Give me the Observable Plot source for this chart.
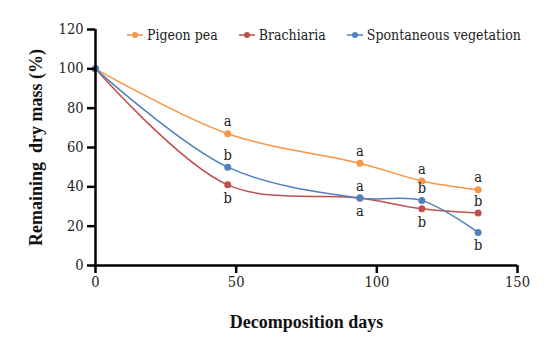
<!DOCTYPE html>
<html>
<head>
<meta charset="utf-8">
<script src="https://cdn.jsdelivr.net/npm/d3@7"></script>
<script src="https://cdn.jsdelivr.net/npm/@observablehq/plot@0.6"></script>
<style>
  html, body { margin: 0; padding: 0; background: #fff; }
  #wrap { position: relative; width: 558px; height: 343px; font-family: 'DejaVu Serif Condensed', 'DejaVu Serif', serif; }
  #legend { position: absolute; left: 127px; top: 27px; display: flex; font-size: 14px; color: #222; white-space: nowrap; }
  .item { display: flex; align-items: center; margin-right: 21px; }
  .item svg { margin-right: 4px; }
</style>
</head>
<body>
<div id="wrap"><div id="legend"></div></div>
<script>
const days = [0, 47, 94, 116, 136];
const series = ["Pigeon pea", "Brachiaria", "Spontaneous vegetation"];
const colors = ["#F79646", "#C0504D", "#4F81BD"];
const pigeonPea = [100, 67, 52, 43, 38.5];
const brachiaria = [100, 41, 34.3, 28.8, 26.7];
const spontaneous = [100, 50, 34.3, 33, 16.8];
const letterPigeon = [null, "a", "a", "a", "a"];
const letterBrach = [null, "b", "a", "b", "b"];
const letterSpont = [null, "b", "a", "b", "b"];
// +1 = letter above the point, -1 = below
const placePigeon = [0, 1, 1, 1, 1];
const placeBrach = [0, -1, -1, -1, 1];
const placeSpont = [0, 1, 1, 1, -1];
const yTicks = [0, 20, 40, 60, 80, 100, 120];
const xTicks = [0, 50, 100, 150];

const values = [pigeonPea, brachiaria, spontaneous];
const letters = [letterPigeon, letterBrach, letterSpont];
const places = [placePigeon, placeBrach, placeSpont];
const rows = [];
series.forEach((s, i) => days.forEach((d, j) => rows.push({
  series: s, day: d, value: values[i][j], letter: letters[i][j], place: places[i][j]
})));
const lettered = rows.filter(r => r.letter);

const font = "'DejaVu Serif Condensed', 'DejaVu Serif', serif";
const chart = Plot.plot({
  width: 558, height: 343,
  marginLeft: 95, marginRight: 41, marginTop: 29, marginBottom: 78,
  style: { fontFamily: font, fontSize: "14px", color: "#222", background: "white", overflow: "visible" },
  x: { domain: [0, 150] },
  y: { domain: [0, 120] },
  color: { domain: series, range: colors },
  marks: [
    Plot.line(rows, { x: "day", y: "value", stroke: "series", curve: "catmull-rom", strokeWidth: 1.5 }),
    Plot.dot(rows, { x: "day", y: "value", fill: "series", r: 3.5 }),
    Plot.text(lettered.filter(r => r.place > 0), { x: "day", y: "value", text: "letter", dy: -12, fill: "#222", fontSize: 14.5 }),
    Plot.text(lettered.filter(r => r.place < 0), { x: "day", y: "value", text: "letter", dy: 13, fill: "#222", fontSize: 14.5 }),
    Plot.axisY({ ticks: yTicks, tickSize: 8, tickPadding: 4, strokeWidth: 2.5, stroke: "black", fontSize: 14.5,
      label: "Remaining  dry mass (%)", labelAnchor: "center", labelArrow: "none", labelOffset: 66 }),
    Plot.axisX({ ticks: xTicks, tickSize: 8, tickPadding: 3, strokeWidth: 2.5, stroke: "black", fontSize: 14.5,
      label: "Decomposition days", labelAnchor: "center", labelArrow: "none", labelOffset: 62 }),
    Plot.ruleX([0], { stroke: "black", strokeWidth: 2.5 }),
    Plot.ruleY([0], { stroke: "black", strokeWidth: 2.5 })
  ]
});
const wrap = document.getElementById("wrap");
wrap.insertBefore(chart, wrap.firstChild);
d3.select(chart).selectAll("[aria-label='y-axis label'] text, [aria-label='x-axis label'] text")
  .style("font-family", "'Liberation Serif', serif")
  .style("font-weight", "bold").style("font-size", "18px").style("fill", "#111");

const legend = d3.select("#legend");
series.forEach((s, i) => {
  const it = legend.append("div").attr("class", "item");
  const sv = it.append("svg").attr("width", 16).attr("height", 10);
  sv.append("line").attr("x1", 0).attr("x2", 16).attr("y1", 5).attr("y2", 5).attr("stroke", colors[i]).attr("stroke-width", 1.5);
  sv.append("circle").attr("cx", 8).attr("cy", 5).attr("r", 3).attr("fill", colors[i]);
  it.append("span").text(s);
});
</script>
</body>
</html>
